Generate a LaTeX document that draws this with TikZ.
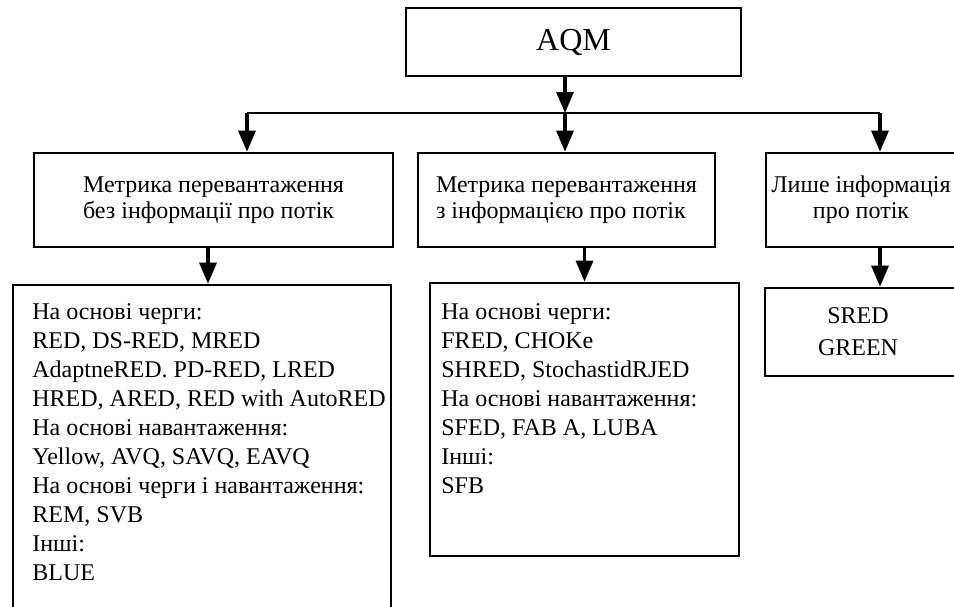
\documentclass[tikz,border=0pt]{standalone}
\usepackage{fontspec}
\setmainfont{Liberation Serif}
\usetikzlibrary{arrows.meta}
\begin{document}
\begin{tikzpicture}[x=0.5pt,y=-0.5pt,
  box/.style={draw, line width=1.3pt, rectangle, inner sep=0pt},
  arr/.style={line width=1.6pt, -{Triangle[length=10.5pt,width=8.5pt]}},
  head/.style={font=\fontsize{12}{13}\selectfont, align=left},
  list/.style={font=\fontsize{12}{14.5}\selectfont, align=left, inner sep=0pt, anchor=north west}]
\begin{scope}
\clip (0,0) rectangle (954,606);
% top level
\node[box, minimum width=167.5pt, minimum height=34pt, font=\fontsize{16}{19}\selectfont] (aqm) at (573.5,42) {AQM\hspace{9pt}};
% second level
\node[box, head, minimum width=179.5pt, minimum height=47pt] (b1) at (213.5,200)
  {Метрика перевантаження\\без інформації про потік};
\node[box, head, minimum width=148.5pt, minimum height=47pt] (b2) at (566.5,200)
  {Метрика перевантаження\\з інформацією про потік};
% the right column runs past the margin
\node[box, minimum width=120pt, minimum height=47pt] (b3) at (886,200) {};
\node[head, align=center, inner sep=0pt] (b3t) at (861,200) {Лише інформація\\про потік};
% third level
\node[box, minimum width=189pt, minimum height=177.5pt] (b4) at (202,462.5) {};
\node[list] (b4t) at (32,303) {На основі черги:\\
RED, DS-RED, MRED\\
AdaptneRED. PD-RED, LRED\\
HRED, ARED, RED with AutoRED\\
На основі навантаження:\\
Yellow, AVQ, SAVQ, EAVQ\\
На основі черги і навантаження:\\
REM, SVB\\
Інші:\\
BLUE};
\node[box, minimum width=154.5pt, minimum height=136.5pt] (b5) at (584.5,419.5) {};
\node[list] (b5t) at (441,303) {На основі черги:\\
FRED, CHOKe\\
SHRED, StochastidRJED\\
На основі навантаження:\\
SFED, FAB A, LUBA\\
Інші:\\
SFB};
\node[box, minimum width=120pt, minimum height=44pt] (b6) at (885,332) {};
\node[align=center, font=\fontsize{12}{16}\selectfont, inner sep=0pt] (b6t) at (858,332) {SRED\\GREEN};
% connectors
\coordinate (hub) at (565,113);
\coordinate (busL) at (247,113);
\coordinate (busR) at (880,113);
\draw[arr] (aqm.south -| hub) -- (hub);
\draw[line width=1.3pt] (busL) -- (busR);
\draw[arr] (busL) -- (busL |- b1.north);
\draw[arr] (hub) -- (hub |- b2.north);
\draw[arr] (busR) -- (busR |- b3.north);
\path ([xshift=-2.75pt]b1.south) coordinate (d1);
\draw[arr] (d1) -- (d1 |- b4.north);
\draw[arr] (b2.south -| b5.north) -- (b5.north);
\draw[arr] (b3.south -| busR) -- (busR |- b6.north);
\end{scope}
\pgfresetboundingbox
\useasboundingbox (0,0) rectangle (954,606);
\end{tikzpicture}
\end{document}
